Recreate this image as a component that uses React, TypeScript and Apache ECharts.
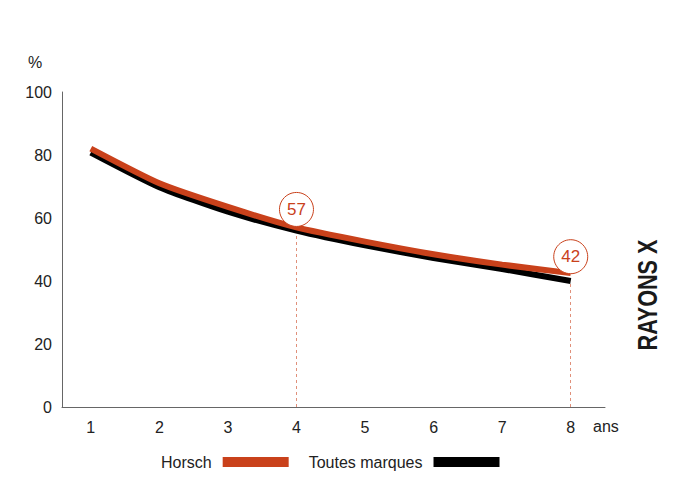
import React, { useEffect, useRef } from "react";
import * as echarts from "echarts";

const years = [1, 2, 3, 4, 5, 6, 7, 8];
const horsch = [82, 71, 63.5, 57, 52.5, 48.5, 45.2, 42.5];
const toutes = [80.8, 69.8, 62, 56, 51.3, 47.3, 43.8, 40];
const yTicks = [0, 20, 40, 60, 80, 100];
const highlights = [
  { x: 4, v: 57 },
  { x: 8, v: 42 },
];

const FONT = "'Liberation Sans Narrow', 'Liberation Sans', Arial, sans-serif";
const ORANGE = "#c9411b";

export default function App() {
  const ref = useRef<HTMLDivElement>(null);
  useEffect(() => {
    if (!ref.current) return;
    const chart = echarts.init(ref.current, null, { renderer: "svg" });
    chart.setOption({
      animation: false,
      backgroundColor: "#fff",
      textStyle: { fontFamily: FONT },
      grid: { left: 62, right: 95, top: 92, bottom: 91 },
      xAxis: {
        type: "value",
        min: 0.58,
        max: 8.5,
        splitLine: { show: false },
        axisLine: { show: true, lineStyle: { color: "#666", width: 1 } },
        axisTick: { show: false },
        axisLabel: {
          customValues: years,
          color: "#222",
          fontSize: 16,
          fontFamily: FONT,
          margin: 12,
        },
        name: "ans",
        nameLocation: "end",
        nameGap: -2,
        nameTextStyle: {
          color: "#222",
          fontSize: 16,
          fontFamily: FONT,
          verticalAlign: "top",
          align: "left",
          padding: [11, 0, 0, -10],
        },
      },
      yAxis: {
        type: "value",
        min: 0,
        max: 100,
        interval: 20,
        splitLine: { show: false },
        axisLine: { show: true, lineStyle: { color: "#666", width: 1 } },
        axisTick: { show: false },
        axisLabel: {
          customValues: yTicks,
          color: "#222",
          fontSize: 16,
          fontFamily: FONT,
          margin: 10,
        },
      },
      legend: {
        top: 449,
        left: 156,
        align: "right",
        icon: "rect",
        itemWidth: 66,
        itemHeight: 10,
        itemGap: 20,
        textStyle: { color: "#222", fontSize: 16, fontFamily: FONT, padding: [0, 6, 0, 0] },
        data: ["Horsch", "Toutes marques"],
      },
      graphic: [
        {
          type: "text",
          left: 28,
          top: 54,
          style: { text: "%", fontSize: 16, fontFamily: FONT, fill: "#222" },
        },
        {
          type: "text",
          x: 648,
          y: 295,
          rotation: Math.PI / 2,
          scaleX: 0.8,
          style: {
            text: "RAYONS X",
            fontSize: 27,
            fontWeight: "bold",
            fontFamily: FONT,
            fill: "#1a1a1a",
            align: "center",
            verticalAlign: "middle",
          },
        },
      ],
      series: [
        {
          name: "Toutes marques",
          type: "line",
          smooth: 0.2,
          showSymbol: false,
          color: "#000",
          lineStyle: { color: "#000", width: 6 },
          data: years.map((x, i) => [x, toutes[i]]),
          z: 2,
        },
        {
          name: "Horsch",
          type: "line",
          smooth: 0.2,
          showSymbol: false,
          color: ORANGE,
          lineStyle: { color: ORANGE, width: 6 },
          data: years.map((x, i) => [x, horsch[i]]),
          z: 3,
          markLine: {
            silent: true,
            symbol: "none",
            label: { show: false },
            lineStyle: { color: "#e0907a", type: [3, 3], width: 1, opacity: 1 },
            data: highlights.map((h) => [
              { coord: [h.x, 0] },
              { coord: [h.x, h.v - 2] },
            ]),
          },
          markPoint: {
            silent: true,
            symbol: "circle",
            symbolSize: 34,
            symbolOffset: [0, -18],
            itemStyle: { color: "#fff", borderColor: ORANGE, borderWidth: 1 },
            label: {
              show: true,
              color: ORANGE,
              fontSize: 17,
              fontFamily: FONT,
              offset: [0, 0],
            },
            data: highlights.map((h) => ({ coord: [h.x, h.v], value: h.v })),
          },
        },
      ],
    });
    return () => chart.dispose();
  }, []);
  return (
    <div
      ref={ref}
      style={{ position: "fixed", left: 0, top: 0, width: 700, height: 498 }}
    />
  );
}
